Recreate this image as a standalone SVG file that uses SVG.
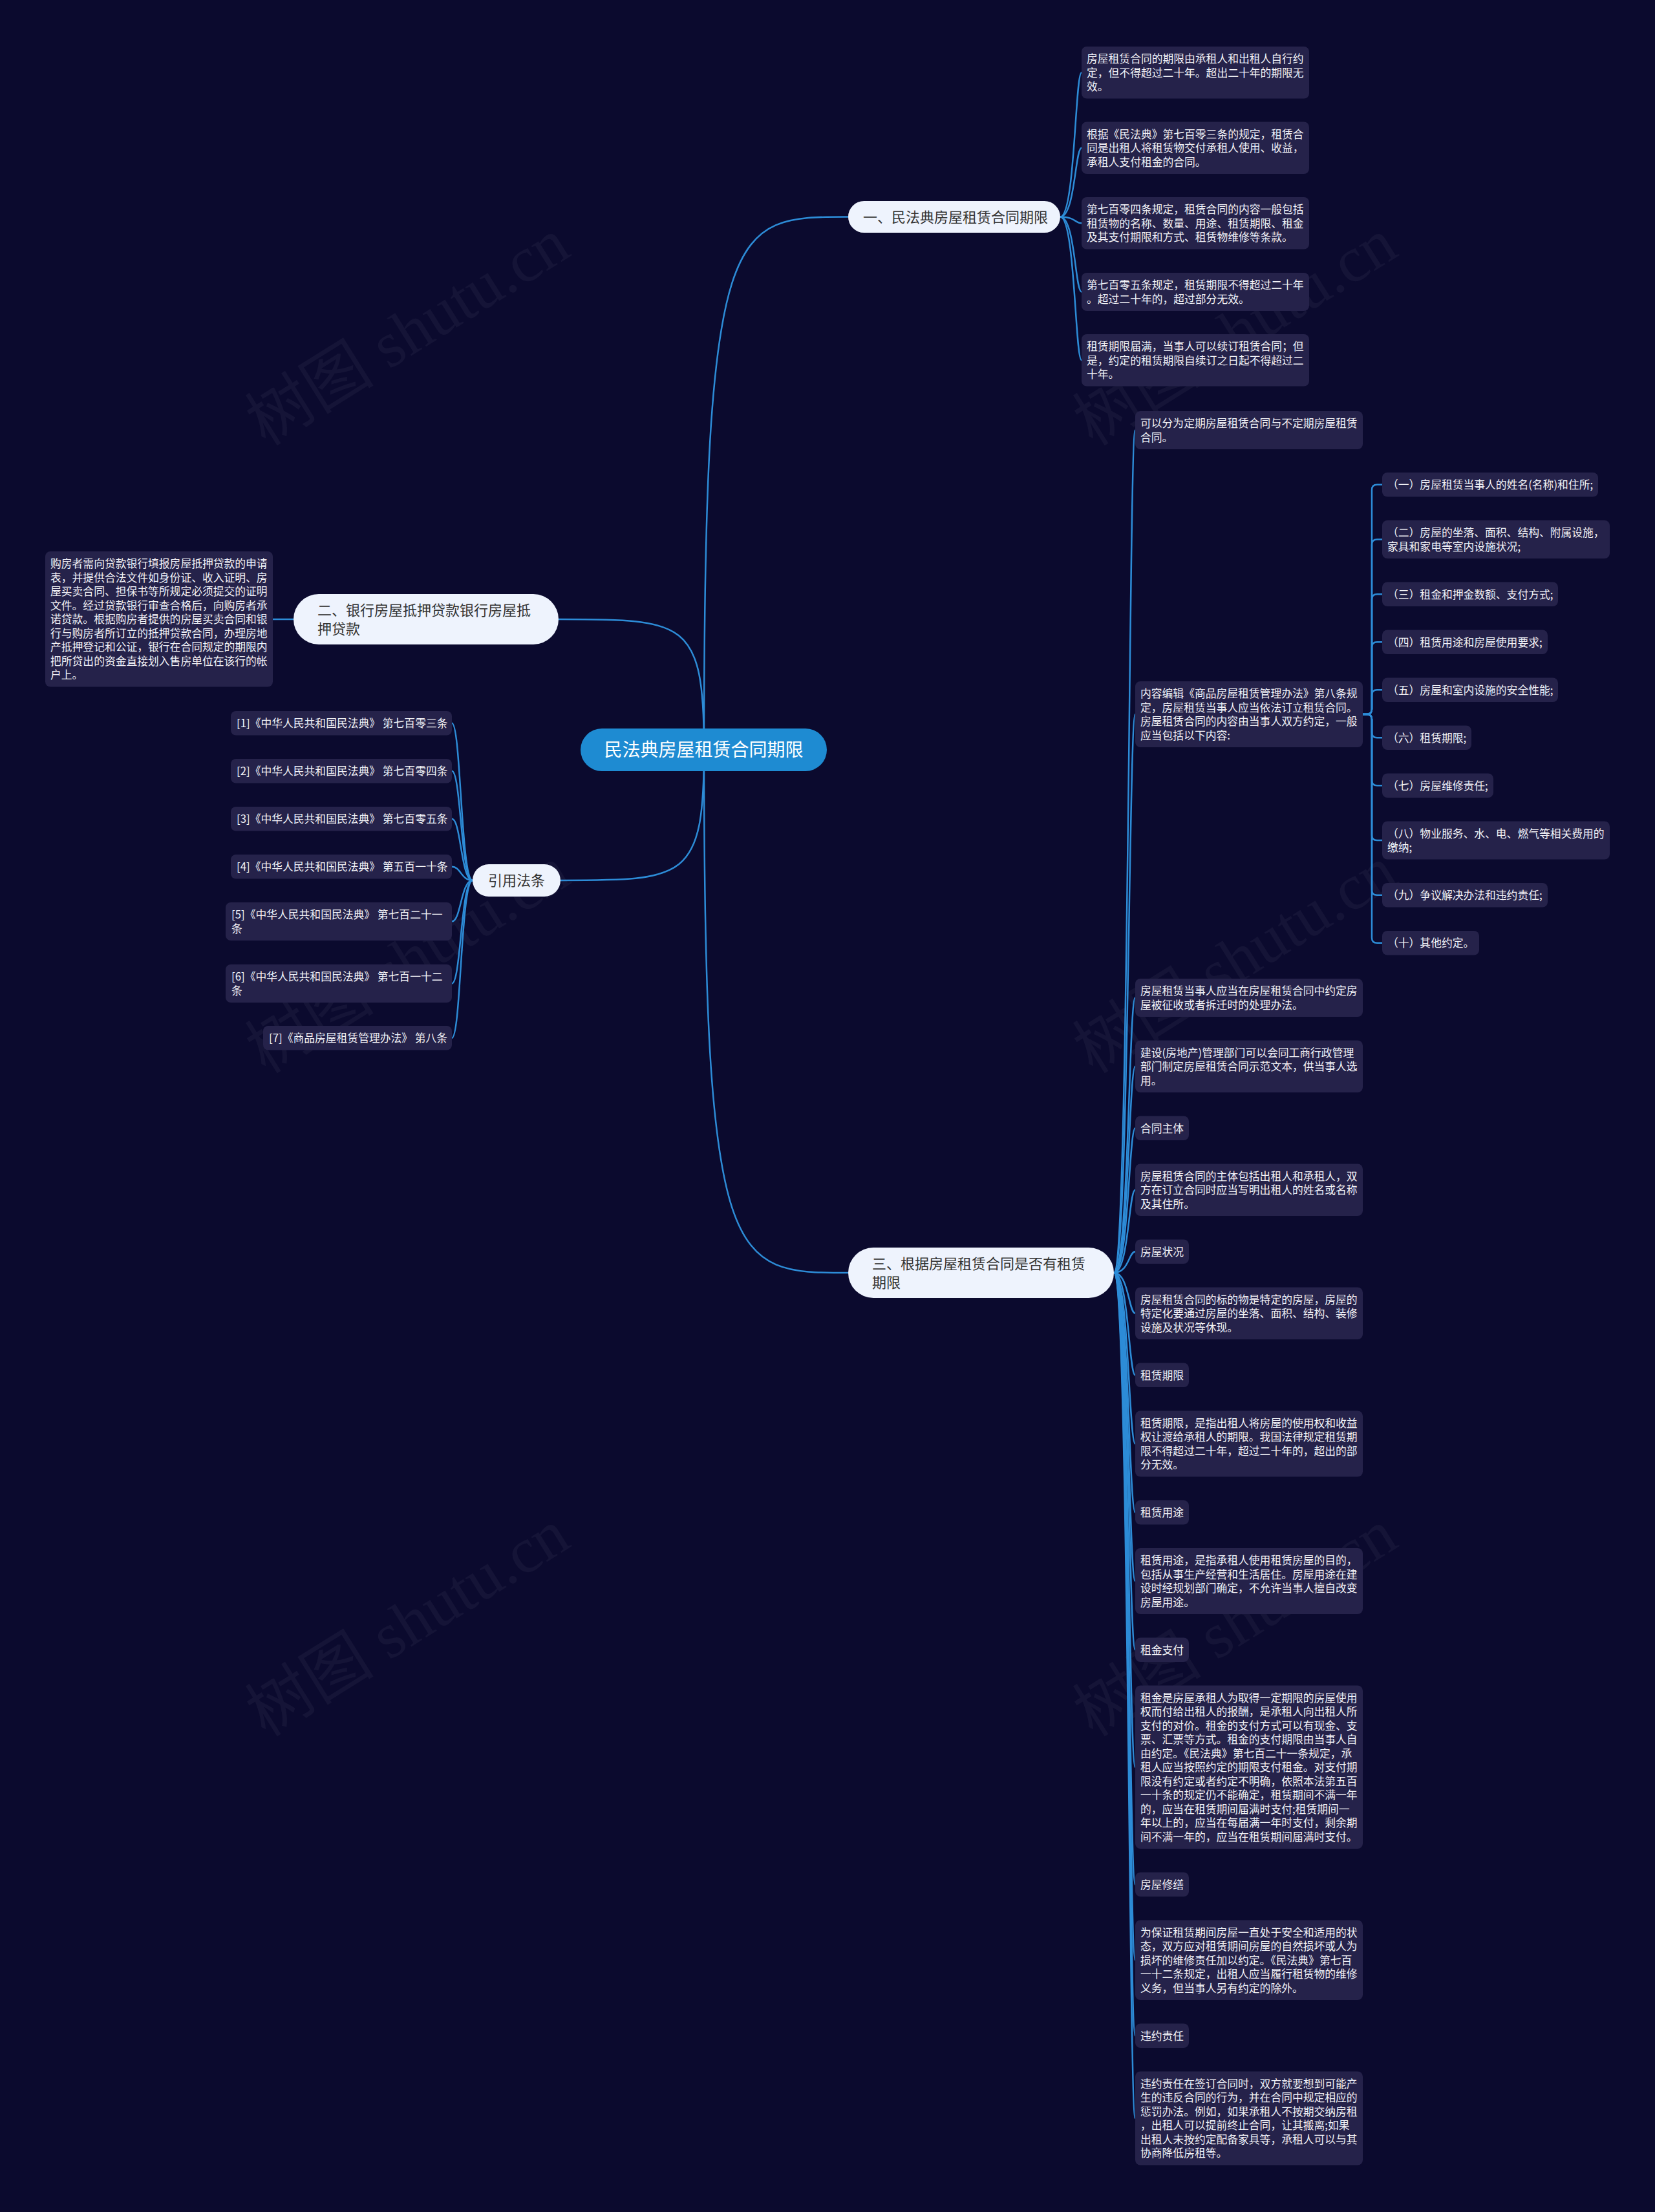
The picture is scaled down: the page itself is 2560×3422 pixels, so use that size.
<svg xmlns="http://www.w3.org/2000/svg" width="2560" height="3422" viewBox="0 0 2560 3422">
<style>
.bg{fill:#0b0a2e}
.wm{font-family:"Liberation Serif","Noto Sans CJK SC",serif;font-size:100px;fill:#ffffff;fill-opacity:0.045;text-anchor:middle}
.conn path{fill:none;stroke:#2d8cd7;stroke-width:2.5}
.leaf rect{fill:#25224a}
.lt{font-family:"Noto Sans CJK SC","Noto Sans",sans-serif;font-size:16.8px;fill:#f2f2f7}
.br rect{fill:#eef3fd}
.bt{font-family:"Noto Sans CJK SC","Noto Sans",sans-serif;font-size:22px;fill:#333333}
.rt{font-family:"Noto Sans CJK SC","Noto Sans",sans-serif;font-size:28px;fill:#ffffff;text-anchor:middle}
</style>
<rect class="bg" x="0" y="0" width="2560" height="3422"/>
<g id="watermarks">
<text class="wm" x="630" y="548" transform="rotate(-32 630 513)">树图 shutu.cn</text>
<text class="wm" x="1910" y="548" transform="rotate(-32 1910 513)">树图 shutu.cn</text>
<text class="wm" x="630" y="1519" transform="rotate(-32 630 1484)">树图 shutu.cn</text>
<text class="wm" x="1910" y="1519" transform="rotate(-32 1910 1484)">树图 shutu.cn</text>
<text class="wm" x="630" y="2545" transform="rotate(-32 630 2510)">树图 shutu.cn</text>
<text class="wm" x="1910" y="2545" transform="rotate(-32 1910 2510)">树图 shutu.cn</text>
</g>
<g id="connectors" class="conn">
<path d="M1089,1160 C1089,335 1130,335 1312,335.5"/>
<path d="M1089,1160 C1089,958 1060,958 864,958"/>
<path d="M1089,1160 C1089,1362 1060,1362 867,1362"/>
<path d="M1089,1160 C1089,1969 1130,1969 1312,1969"/>
<path d="M454,958 L422,958"/>
<path d="M1640,335.5 C1663,335.5 1663,112.25 1673,112.25"/>
<path d="M1640,335.5 C1663,335.5 1663,228.75 1673,228.75"/>
<path d="M1640,335.5 C1663,335.5 1663,345.25 1673,345.25"/>
<path d="M1640,335.5 C1663,335.5 1663,451.5 1673,451.5"/>
<path d="M1640,335.5 C1663,335.5 1663,557.25 1673,557.25"/>
<path d="M1723,1969 C1746,1969 1746,665.5 1756,665.5"/>
<path d="M1723,1969 C1746,1969 1746,1105 1756,1105"/>
<path d="M1723,1969 C1746,1969 1746,1543.5 1756,1543.5"/>
<path d="M1723,1969 C1746,1969 1746,1649.75 1756,1649.75"/>
<path d="M1723,1969 C1746,1969 1746,1745.25 1756,1745.25"/>
<path d="M1723,1969 C1746,1969 1746,1840.75 1756,1840.75"/>
<path d="M1723,1969 C1746,1969 1746,1936.25 1756,1936.25"/>
<path d="M1723,1969 C1746,1969 1746,2031.75 1756,2031.75"/>
<path d="M1723,1969 C1746,1969 1746,2127.25 1756,2127.25"/>
<path d="M1723,1969 C1746,1969 1746,2233.5 1756,2233.5"/>
<path d="M1723,1969 C1746,1969 1746,2339.75 1756,2339.75"/>
<path d="M1723,1969 C1746,1969 1746,2446 1756,2446"/>
<path d="M1723,1969 C1746,1969 1746,2552.25 1756,2552.25"/>
<path d="M1723,1969 C1746,1969 1746,2733.75 1756,2733.75"/>
<path d="M1723,1969 C1746,1969 1746,2915.25 1756,2915.25"/>
<path d="M1723,1969 C1746,1969 1746,3032.25 1756,3032.25"/>
<path d="M1723,1969 C1746,1969 1746,3149.25 1756,3149.25"/>
<path d="M1723,1969 C1746,1969 1746,3277 1756,3277"/>
<path d="M2106,1105 H2114 Q2122,1105 2122,1097 V757.75 Q2122,749.75 2130,749.75 H2138"/>
<path d="M2106,1105 H2114 Q2122,1105 2122,1097 V842.5 Q2122,834.5 2130,834.5 H2138"/>
<path d="M2106,1105 H2114 Q2122,1105 2122,1097 V927.25 Q2122,919.25 2130,919.25 H2138"/>
<path d="M2106,1105 H2114 Q2122,1105 2122,1097 V1001.25 Q2122,993.25 2130,993.25 H2138"/>
<path d="M2106,1105 H2114 Q2122,1105 2122,1097 V1075.25 Q2122,1067.25 2130,1067.25 H2138"/>
<path d="M2106,1105 H2114 Q2122,1105 2122,1113 V1133.25 Q2122,1141.25 2130,1141.25 H2138"/>
<path d="M2106,1105 H2114 Q2122,1105 2122,1113 V1207.25 Q2122,1215.25 2130,1215.25 H2138"/>
<path d="M2106,1105 H2114 Q2122,1105 2122,1113 V1292 Q2122,1300 2130,1300 H2138"/>
<path d="M2106,1105 H2114 Q2122,1105 2122,1113 V1376.75 Q2122,1384.75 2130,1384.75 H2138"/>
<path d="M2106,1105 H2114 Q2122,1105 2122,1113 V1450.75 Q2122,1458.75 2130,1458.75 H2138"/>
<path d="M731,1362 C713,1362 713,1118.75 699,1118.75"/>
<path d="M731,1362 C713,1362 713,1192.75 699,1192.75"/>
<path d="M731,1362 C713,1362 713,1266.75 699,1266.75"/>
<path d="M731,1362 C713,1362 713,1340.75 699,1340.75"/>
<path d="M731,1362 C713,1362 713,1425.5 699,1425.5"/>
<path d="M731,1362 C713,1362 713,1521.5 699,1521.5"/>
<path d="M731,1362 C713,1362 713,1605.75 699,1605.75"/>
</g>
<g id="root"><rect x="898" y="1127" width="381" height="66" rx="33" fill="#1e8bd2"/><text class="rt" x="1088.5" y="1170">民法典房屋租赁合同期限</text></g>
<g id="b1" class="br"><rect x="1312" y="311" width="328" height="49" rx="24.5"/><text class="bt" x="1335" y="343.5">一、民法典房屋租赁合同期限</text></g>
<g id="b2" class="br"><rect x="454" y="919" width="410" height="78" rx="39"/><text class="bt"><tspan x="491" y="951.5">二、银行房屋抵押贷款银行房屋抵</tspan><tspan x="491" y="980.5">押贷款</tspan></text></g>
<g id="b3" class="br"><rect x="1312" y="1930" width="411" height="78" rx="39"/><text class="bt"><tspan x="1349" y="1962.5">三、根据房屋租赁合同是否有租赁</tspan><tspan x="1349" y="1991.5">期限</tspan></text></g>
<g id="b4" class="br"><rect x="731" y="1337" width="136" height="50" rx="25"/><text class="bt" x="799" y="1370" text-anchor="middle">引用法条</text></g>

<g id="b1-1" class="leaf"><rect x="1673" y="72" width="352" height="80.5" rx="8"/><text class="lt"><tspan x="1681" y="97">房屋租赁合同的期限由承租人和出租人自行约</tspan><tspan x="1681" y="118.5">定，但不得超过二十年。超出二十年的期限无</tspan><tspan x="1681" y="140">效。</tspan></text></g>
<g id="b1-2" class="leaf"><rect x="1673" y="188.5" width="352" height="80.5" rx="8"/><text class="lt"><tspan x="1681" y="213.5">根据《民法典》第七百零三条的规定，租赁合</tspan><tspan x="1681" y="235">同是出租人将租赁物交付承租人使用、收益，</tspan><tspan x="1681" y="256.5">承租人支付租金的合同。</tspan></text></g>
<g id="b1-3" class="leaf"><rect x="1673" y="305" width="352" height="80.5" rx="8"/><text class="lt"><tspan x="1681" y="330">第七百零四条规定，租赁合同的内容一般包括</tspan><tspan x="1681" y="351.5">租赁物的名称、数量、用途、租赁期限、租金</tspan><tspan x="1681" y="373">及其支付期限和方式、租赁物维修等条款。</tspan></text></g>
<g id="b1-4" class="leaf"><rect x="1673" y="422" width="352" height="59" rx="8"/><text class="lt"><tspan x="1681" y="447">第七百零五条规定，租赁期限不得超过二十年</tspan><tspan x="1681" y="468.5">。超过二十年的，超过部分无效。</tspan></text></g>
<g id="b1-5" class="leaf"><rect x="1673" y="517" width="352" height="80.5" rx="8"/><text class="lt"><tspan x="1681" y="542">租赁期限届满，当事人可以续订租赁合同；但</tspan><tspan x="1681" y="563.5">是，约定的租赁期限自续订之日起不得超过二</tspan><tspan x="1681" y="585">十年。</tspan></text></g>

<g id="b2-1" class="leaf"><rect x="70" y="853" width="352" height="209.5" rx="8"/><text class="lt"><tspan x="78" y="878">购房者需向贷款银行填报房屋抵押贷款的申请</tspan><tspan x="78" y="899.5">表，并提供合法文件如身份证、收入证明、房</tspan><tspan x="78" y="921">屋买卖合同、担保书等所规定必须提交的证明</tspan><tspan x="78" y="942.5">文件。经过贷款银行审查合格后，向购房者承</tspan><tspan x="78" y="964">诺贷款。根据购房者提供的房屋买卖合同和银</tspan><tspan x="78" y="985.5">行与购房者所订立的抵押贷款合同，办理房地</tspan><tspan x="78" y="1007">产抵押登记和公证，银行在合同规定的期限内</tspan><tspan x="78" y="1028.5">把所贷出的资金直接划入售房单位在该行的帐</tspan><tspan x="78" y="1050">户上。</tspan></text></g>

<g id="c1" class="leaf"><rect x="357" y="1100" width="342" height="37.5" rx="8"/><text class="lt" x="366" y="1125">[1]《中华人民共和国民法典》 第七百零三条</text></g>
<g id="c2" class="leaf"><rect x="357" y="1174" width="342" height="37.5" rx="8"/><text class="lt" x="366" y="1199">[2]《中华人民共和国民法典》 第七百零四条</text></g>
<g id="c3" class="leaf"><rect x="357" y="1248" width="342" height="37.5" rx="8"/><text class="lt" x="366" y="1273">[3]《中华人民共和国民法典》 第七百零五条</text></g>
<g id="c4" class="leaf"><rect x="357" y="1322" width="342" height="37.5" rx="8"/><text class="lt" x="366" y="1347">[4]《中华人民共和国民法典》 第五百一十条</text></g>
<g id="c5" class="leaf"><rect x="349" y="1396" width="350" height="59" rx="8"/><text class="lt"><tspan x="358" y="1421">[5]《中华人民共和国民法典》 第七百二十一</tspan><tspan x="358" y="1442.5">条</tspan></text></g>
<g id="c6" class="leaf"><rect x="349" y="1492" width="350" height="59" rx="8"/><text class="lt"><tspan x="358" y="1517">[6]《中华人民共和国民法典》 第七百一十二</tspan><tspan x="358" y="1538.5">条</tspan></text></g>
<g id="c7" class="leaf"><rect x="407" y="1587" width="292" height="37.5" rx="8"/><text class="lt" x="416" y="1612">[7]《商品房屋租赁管理办法》 第八条</text></g>

<g id="s1" class="leaf"><rect x="1756" y="636" width="352" height="59" rx="8"/><text class="lt"><tspan x="1764" y="661">可以分为定期房屋租赁合同与不定期房屋租赁</tspan><tspan x="1764" y="682.5">合同。</tspan></text></g>
<g id="s2" class="leaf"><rect x="1756" y="1054" width="352" height="102" rx="8"/><text class="lt"><tspan x="1764" y="1079">内容编辑《商品房屋租赁管理办法》第八条规</tspan><tspan x="1764" y="1100.5">定，房屋租赁当事人应当依法订立租赁合同。</tspan><tspan x="1764" y="1122">房屋租赁合同的内容由当事人双方约定，一般</tspan><tspan x="1764" y="1143.5">应当包括以下内容:</tspan></text></g>
<g id="s3" class="leaf"><rect x="1756" y="1514" width="352" height="59" rx="8"/><text class="lt"><tspan x="1764" y="1539">房屋租赁当事人应当在房屋租赁合同中约定房</tspan><tspan x="1764" y="1560.5">屋被征收或者拆迁时的处理办法。</tspan></text></g>
<g id="s4" class="leaf"><rect x="1756" y="1609.5" width="352" height="80.5" rx="8"/><text class="lt"><tspan x="1764" y="1634.5">建设(房地产)管理部门可以会同工商行政管理</tspan><tspan x="1764" y="1656">部门制定房屋租赁合同示范文本，供当事人选</tspan><tspan x="1764" y="1677.5">用。</tspan></text></g>
<g id="s5" class="leaf"><rect x="1756" y="1726.5" width="83" height="37.5" rx="8"/><text class="lt" x="1764" y="1751.5">合同主体</text></g>
<g id="s6" class="leaf"><rect x="1756" y="1800.5" width="352" height="80.5" rx="8"/><text class="lt"><tspan x="1764" y="1825.5">房屋租赁合同的主体包括出租人和承租人，双</tspan><tspan x="1764" y="1847">方在订立合同时应当写明出租人的姓名或名称</tspan><tspan x="1764" y="1868.5">及其住所。</tspan></text></g>
<g id="s7" class="leaf"><rect x="1756" y="1917.5" width="83" height="37.5" rx="8"/><text class="lt" x="1764" y="1942.5">房屋状况</text></g>
<g id="s8" class="leaf"><rect x="1756" y="1991.5" width="352" height="80.5" rx="8"/><text class="lt"><tspan x="1764" y="2016.5">房屋租赁合同的标的物是特定的房屋，房屋的</tspan><tspan x="1764" y="2038">特定化要通过房屋的坐落、面积、结构、装修</tspan><tspan x="1764" y="2059.5">设施及状况等休现。</tspan></text></g>
<g id="s9" class="leaf"><rect x="1756" y="2108.5" width="83" height="37.5" rx="8"/><text class="lt" x="1764" y="2133.5">租赁期限</text></g>
<g id="s10" class="leaf"><rect x="1756" y="2182.5" width="352" height="102" rx="8"/><text class="lt"><tspan x="1764" y="2207.5">租赁期限，是指出租人将房屋的使用权和收益</tspan><tspan x="1764" y="2229">权让渡给承租人的期限。我国法律规定租赁期</tspan><tspan x="1764" y="2250.5">限不得超过二十年，超过二十年的，超出的部</tspan><tspan x="1764" y="2272">分无效。</tspan></text></g>
<g id="s11" class="leaf"><rect x="1756" y="2321" width="83" height="37.5" rx="8"/><text class="lt" x="1764" y="2346">租赁用途</text></g>
<g id="s12" class="leaf"><rect x="1756" y="2395" width="352" height="102" rx="8"/><text class="lt"><tspan x="1764" y="2420">租赁用途，是指承租人使用租赁房屋的目的，</tspan><tspan x="1764" y="2441.5">包括从事生产经营和生活居住。房屋用途在建</tspan><tspan x="1764" y="2463">设时经规划部门确定，不允许当事人擅自改变</tspan><tspan x="1764" y="2484.5">房屋用途。</tspan></text></g>
<g id="s13" class="leaf"><rect x="1756" y="2533.5" width="83" height="37.5" rx="8"/><text class="lt" x="1764" y="2558.5">租金支付</text></g>
<g id="s14" class="leaf"><rect x="1756" y="2607.5" width="352" height="252.5" rx="8"/><text class="lt"><tspan x="1764" y="2632.5">租金是房屋承租人为取得一定期限的房屋使用</tspan><tspan x="1764" y="2654">权而付给出租人的报酬，是承租人向出租人所</tspan><tspan x="1764" y="2675.5">支付的对价。租金的支付方式可以有现金、支</tspan><tspan x="1764" y="2697">票、汇票等方式。租金的支付期限由当事人自</tspan><tspan x="1764" y="2718.5">由约定。《民法典》第七百二十一条规定，承</tspan><tspan x="1764" y="2740">租人应当按照约定的期限支付租金。对支付期</tspan><tspan x="1764" y="2761.5">限没有约定或者约定不明确，依照本法第五百</tspan><tspan x="1764" y="2783">一十条的规定仍不能确定，租赁期间不满一年</tspan><tspan x="1764" y="2804.5">的，应当在租赁期间届满时支付;租赁期间一</tspan><tspan x="1764" y="2826">年以上的，应当在每届满一年时支付，剩余期</tspan><tspan x="1764" y="2847.5">间不满一年的，应当在租赁期间届满时支付。</tspan></text></g>
<g id="s15" class="leaf"><rect x="1756" y="2896.5" width="83" height="37.5" rx="8"/><text class="lt" x="1764" y="2921.5">房屋修缮</text></g>
<g id="s16" class="leaf"><rect x="1756" y="2970.5" width="352" height="123.5" rx="8"/><text class="lt"><tspan x="1764" y="2995.5">为保证租赁期间房屋一直处于安全和适用的状</tspan><tspan x="1764" y="3017">态，双方应对租赁期间房屋的自然损坏或人为</tspan><tspan x="1764" y="3038.5">损坏的维修责任加以约定。《民法典》第七百</tspan><tspan x="1764" y="3060">一十二条规定，出租人应当履行租赁物的维修</tspan><tspan x="1764" y="3081.5">义务，但当事人另有约定的除外。</tspan></text></g>
<g id="s17" class="leaf"><rect x="1756" y="3130.5" width="83" height="37.5" rx="8"/><text class="lt" x="1764" y="3155.5">违约责任</text></g>
<g id="s18" class="leaf"><rect x="1756" y="3204.5" width="352" height="145" rx="8"/><text class="lt"><tspan x="1764" y="3229.5">违约责任在签订合同时，双方就要想到可能产</tspan><tspan x="1764" y="3251">生的违反合同的行为，并在合同中规定相应的</tspan><tspan x="1764" y="3272.5">惩罚办法。例如，如果承租人不按期交纳房租</tspan><tspan x="1764" y="3294">，出租人可以提前终止合同，让其搬离;如果</tspan><tspan x="1764" y="3315.5">出租人未按约定配备家具等，承租人可以与其</tspan><tspan x="1764" y="3337">协商降低房租等。</tspan></text></g>

<g id="t1" class="leaf"><rect x="2138" y="731" width="334" height="37.5" rx="8"/><text class="lt" x="2146" y="756">（一）房屋租赁当事人的姓名(名称)和住所;</text></g>
<g id="t2" class="leaf"><rect x="2138" y="805" width="352" height="59" rx="8"/><text class="lt"><tspan x="2146" y="830">（二）房屋的坐落、面积、结构、附属设施，</tspan><tspan x="2146" y="851.5">家具和家电等室内设施状况;</tspan></text></g>
<g id="t3" class="leaf"><rect x="2138" y="900.5" width="272" height="37.5" rx="8"/><text class="lt" x="2146" y="925.5">（三）租金和押金数额、支付方式;</text></g>
<g id="t4" class="leaf"><rect x="2138" y="974.5" width="256" height="37.5" rx="8"/><text class="lt" x="2146" y="999.5">（四）租赁用途和房屋使用要求;</text></g>
<g id="t5" class="leaf"><rect x="2138" y="1048.5" width="272" height="37.5" rx="8"/><text class="lt" x="2146" y="1073.5">（五）房屋和室内设施的安全性能;</text></g>
<g id="t6" class="leaf"><rect x="2138" y="1122.5" width="138" height="37.5" rx="8"/><text class="lt" x="2146" y="1147.5">（六）租赁期限;</text></g>
<g id="t7" class="leaf"><rect x="2138" y="1196.5" width="172" height="37.5" rx="8"/><text class="lt" x="2146" y="1221.5">（七）房屋维修责任;</text></g>
<g id="t8" class="leaf"><rect x="2138" y="1270.5" width="352" height="59" rx="8"/><text class="lt"><tspan x="2146" y="1295.5">（八）物业服务、水、电、燃气等相关费用的</tspan><tspan x="2146" y="1317">缴纳;</tspan></text></g>
<g id="t9" class="leaf"><rect x="2138" y="1366" width="256" height="37.5" rx="8"/><text class="lt" x="2146" y="1391">（九）争议解决办法和违约责任;</text></g>
<g id="t10" class="leaf"><rect x="2138" y="1440" width="150" height="37.5" rx="8"/><text class="lt" x="2146" y="1465">（十）其他约定。</text></g>
</svg>
